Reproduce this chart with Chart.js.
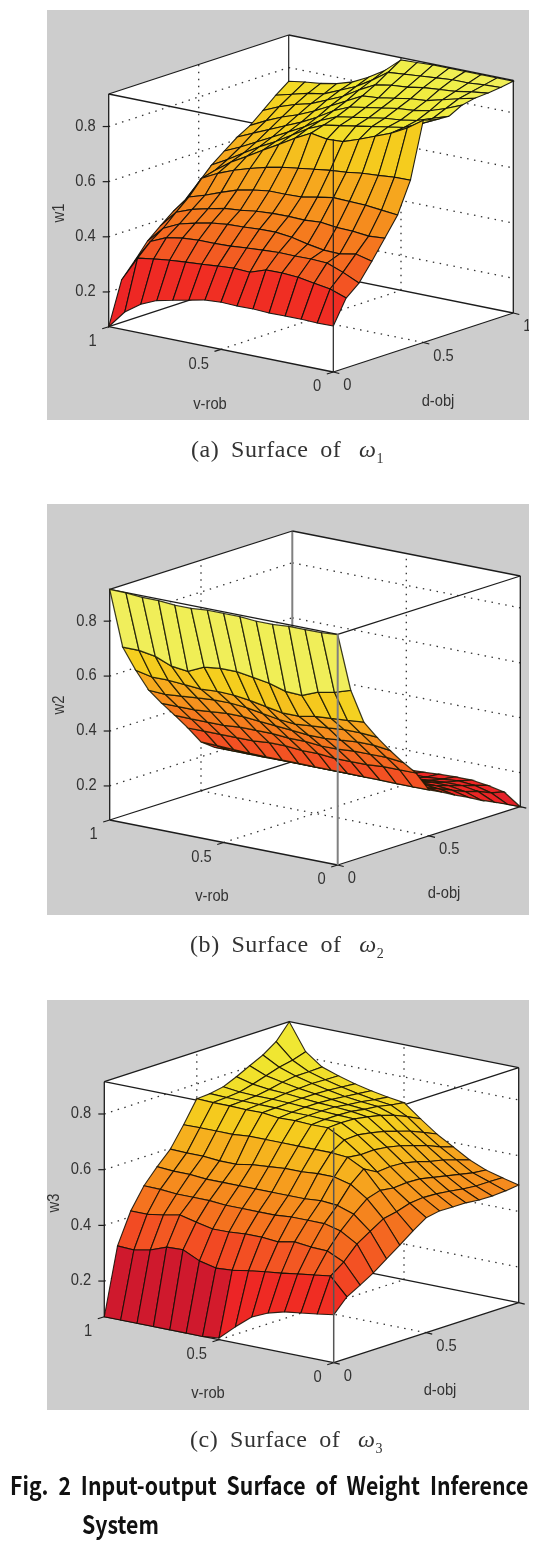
<!DOCTYPE html>
<html>
<head>
<meta charset="utf-8">
<script src="https://cdn.jsdelivr.net/npm/chart.js@4"></script>
<style>
  html, body { margin: 0; padding: 0; background: #fff; }
  body { position: relative; width: 552px; height: 1541px; overflow: hidden; }
  canvas { position: absolute; left: 47px; filter: blur(0.45px); }
  .cap { position: absolute; white-space: nowrap; font-family: "Liberation Serif", serif; font-size: 24px; color: #333; word-spacing: 5px; letter-spacing: 0.6px; filter: blur(0.3px); }
  .cap i { font-size: 24px; margin-left: 6px; }
  .cap sub { font-size: 14px; line-height: 0; }
  .fig { position: absolute; white-space: nowrap; font-family: "Noto Sans CJK KR", "Noto Sans", sans-serif; font-weight: 700; font-size: 25px; color: #111; transform: scaleX(.85); transform-origin: left top; word-spacing: 6px; }
</style>
</head>
<body>
<canvas id="chartA" width="482" height="410" style="top:10px"></canvas>
<canvas id="chartB" width="482" height="411" style="top:504px"></canvas>
<canvas id="chartC" width="482" height="410" style="top:1000px"></canvas>
<div class="cap" style="left:191px;top:436px">(a) Surface of <i>ω</i><sub>1</sub></div>
<div class="cap" style="left:190px;top:931px">(b) Surface of <i>ω</i><sub>2</sub></div>
<div class="cap" style="left:190px;top:1426px">(c) Surface of <i>ω</i><sub>3</sub></div>
<div class="fig" style="left:10px;top:1466px">Fig. 2 Input-output Surface of Weight Inference</div>
<div class="fig" style="left:82px;top:1505px">System</div>
<script>
const zTicks = [0.2, 0.4, 0.6, 0.8];
const vTicks = [0, 0.5, 1];
const dTicks = [0, 0.5, 1];

// rows go along d-obj (0 -> 1), columns along v-rob (0 -> 1)
const w1Grid = [
  [.241, .24, .242, .242, .241, .244, .243, .245, .241, .229, .217, .204, .179, .139, .074],
  [.327, .348, .357, .367, .371, .37, .35, .353, .349, .344, .34, .335, .328, .319, .228],
  [.366, .393, .415, .418, .417, .418, .415, .411, .406, .404, .404, .40, .39, .364, .281],
  [.43, .444, .433, .435, .445, .458, .465, .464, .46, .458, .451, .439, .424, .397, .338],
  [.498, .494, .50, .502, .509, .505, .507, .506, .502, .494, .489, .476, .462, .44, .378],
  [.567, .573, .579, .581, .583, .573, .562, .56, .56, .552, .54, .52, .498, .48, .415],
  [.678, .677, .672, .668, .66, .655, .647, .639, .631, .619, .603, .585, .562, .533, .445],
  [.88, .84, .81, .787, .764, .744, .741, .751, .721, .687, .654, .62, .587, .545, .491],
  [.867, .84, .815, .805, .795, .785, .775, .765, .74, .705, .67, .64, .605, .57, .538],
  [.864, .845, .825, .815, .81, .80, .79, .78, .755, .72, .69, .66, .63, .60, .574],
  [.889, .865, .845, .835, .83, .82, .81, .80, .775, .74, .71, .685, .66, .635, .609],
  [.899, .885, .87, .855, .85, .84, .83, .825, .795, .765, .735, .71, .69, .665, .636],
  [.902, .895, .885, .88, .875, .865, .86, .85, .82, .785, .76, .735, .72, .70, .675],
  [.907, .905, .90, .90, .895, .89, .885, .88, .84, .805, .78, .755, .745, .73, .715],
  [.915, .915, .915, .915, .915, .915, .912, .91, .86, .824, .795, .777, .766, .759, .75],
];

const w2Grid = [
  [.915, .91, .91, .91, .905, .905, .91, .91, .91, .905, .905, .91, .91, .915, .916],
  [.697, .678, .667, .643, .646, .664, .674, .683, .683, .676, .649, .656, .68, .69, .69],
  [.566, .561, .556, .552, .541, .541, .552, .563, .571, .573, .569, .574, .578, .578, .591],
  [.496, .50, .50, .495, .49, .485, .49, .50, .51, .515, .515, .51, .505, .50, .503],
  [.433, .44, .44, .435, .43, .43, .435, .44, .445, .45, .45, .445, .44, .44, .44],
  [.374, .38, .38, .38, .375, .375, .38, .38, .385, .385, .385, .38, .38, .38, .381],
  [.32, .32, .32, .315, .315, .315, .32, .32, .325, .325, .32, .32, .32, .32, .32],
  [.243, .243, .243, .244, .244, .245, .245, .245, .246, .246, .247, .248, .25, .252, .254],
  [.22, .225, .225, .225, .225, .22, .22, .22, .22, .22, .22, .22, .22, .22, .22],
  [.194, .205, .21, .21, .205, .20, .20, .20, .20, .20, .20, .20, .20, .20, .20],
  [.171, .185, .19, .19, .185, .18, .18, .18, .18, .18, .18, .18, .18, .18, .18],
  [.145, .165, .175, .175, .17, .165, .165, .165, .165, .165, .165, .165, .165, .165, .165],
  [.123, .15, .16, .16, .155, .15, .15, .15, .15, .15, .15, .15, .15, .15, .15],
  [.10, .13, .145, .15, .145, .14, .14, .14, .14, .14, .14, .14, .14, .14, .14],
  [.076, .118, .13, .138, .138, .136, .132, .13, .13, .13, .13, .13, .13, .13, .13],
];

const w3Grid = [
  [.244, .235, .227, .219, .203, .177, .13, .078, .072, .072, .072, .072, .072, .072, .072],
  [.293, .356, .348, .34, .331, .324, .316, .306, .302, .316, .344, .342, .32, .308, .311],
  [.32, .391, .419, .421, .428, .416, .421, .421, .416, .415, .428, .442, .43, .421, .421],
  [.348, .44, .475, .49, .49, .49, .485, .485, .485, .485, .49, .49, .49, .495, .496],
  [.383, .47, .52, .54, .545, .54, .54, .54, .54, .54, .54, .54, .545, .545, .549],
  [.417, .50, .56, .60, .615, .615, .61, .61, .605, .60, .59, .59, .595, .595, .597],
  [.453, .51, .575, .64, .67, .675, .675, .675, .675, .675, .675, .67, .67, .67, .669],
  [.485, .525, .568, .614, .664, .705, .737, .736, .739, .737, .744, .743, .745, .745, .747],
  [.494, .53, .572, .618, .666, .708, .74, .74, .742, .742, .746, .746, .747, .748, .75],
  [.493, .528, .57, .615, .66, .70, .738, .74, .743, .745, .748, .75, .75, .752, .759],
  [.492, .522, .56, .605, .65, .69, .73, .738, .742, .745, .75, .755, .758, .765, .78],
  [.487, .515, .55, .59, .635, .675, .72, .73, .735, .742, .75, .758, .768, .78, .804],
  [.486, .51, .54, .58, .62, .66, .705, .725, .73, .737, .748, .76, .775, .795, .827],
  [.489, .51, .53, .565, .60, .64, .685, .715, .722, .732, .744, .758, .775, .805, .86],
  [.495, .509, .525, .55, .585, .619, .662, .708, .716, .727, .74, .757, .777, .82, .916],
];

// colormap stops, z then rgb
const colorZ = [.07, .11, .24, .33, .45, .55, .68, .78, .88, .92];
const colorRGB = [
  [205, 25, 45], [235, 35, 38], [240, 45, 35], [243, 85, 35], [245, 125, 30],
  [246, 160, 30], [245, 205, 30], [240, 228, 45], [240, 238, 70], [240, 238, 95],
];

function colorFor(z) {
  let k = 0;
  while (k < colorZ.length - 2 && z > colorZ[k + 1]) k++;
  const t = Math.min(1, Math.max(0, (z - colorZ[k]) / (colorZ[k + 1] - colorZ[k])));
  const c = colorRGB[k].map((a, n) => Math.round(a + (colorRGB[k + 1][n] - a) * t));
  return `rgb(${c.join(',')})`;
}

// the plugin fills each closed mesh cell using the points the scales already placed
const polygonFill = {
  id: 'polygonFill',
  beforeDatasetDraw(chart, args) {
    const ds = chart.data.datasets[args.index];
    if (!ds.polygonFill) return;
    const pts = chart.getDatasetMeta(args.index).data;
    const ctx = chart.ctx;
    ctx.save();
    ctx.beginPath();
    pts.forEach((p, n) => (n ? ctx.lineTo(p.x, p.y) : ctx.moveTo(p.x, p.y)));
    ctx.closePath();
    ctx.fillStyle = ds.polygonFill;
    ctx.fill();
    ctx.restore();
  },
};

const axisText = {
  id: 'axisText',
  afterDraw(chart) {
    const { ctx, scales } = chart;
    ctx.save();
    ctx.fillStyle = '#333';
    ctx.font = '16px "Liberation Sans", Arial, sans-serif';
    ctx.textBaseline = 'middle';
    chart.options.plugins.axisText.items.forEach((t) => {
      const x = scales.x.getPixelForValue(t.x);
      const y = scales.y.getPixelForValue(t.y);
      ctx.save();
      ctx.translate(x, y);
      if (t.rot) ctx.rotate(t.rot);
      ctx.scale(0.92, 1);
      ctx.textAlign = t.align || 'center';
      ctx.fillText(t.text, 0, 0);
      ctx.restore();
    });
    ctx.restore();
  },
};

function drawSurface(id, grid, name, view) {
  const project = (v, d, z) => ({
    x: view.front.x + v * (view.left.x - view.front.x) + d * (view.right.x - view.front.x),
    y: view.front.y + v * (view.left.y - view.front.y) + d * (view.right.y - view.front.y)
      - ((z - view.zMin) / (view.zMax - view.zMin)) * view.height,
  });
  const line = (pts, color, width, dash) => ({
    data: pts, showLine: true, pointRadius: 0, borderColor: color, borderWidth: width,
    borderDash: dash || [], fill: false,
  });
  const dots = '#333';
  const { zMin: lo, zMax: hi } = view;

  // front first: chart.js paints the last dataset first
  const datasets = [];
  datasets.push(line([project(0, 0, lo), project(0, 0, hi)], view.frontColor, view.frontWidth));

  const n = grid.length - 1;
  for (let i = 0; i < n; i++) {
    for (let j = 0; j < n; j++) {
      const cell = [
        project(j / n, i / n, grid[i][j]),
        project((j + 1) / n, i / n, grid[i][j + 1]),
        project((j + 1) / n, (i + 1) / n, grid[i + 1][j + 1]),
        project(j / n, (i + 1) / n, grid[i + 1][j]),
        project(j / n, i / n, grid[i][j]),
      ];
      datasets.push({ ...line(cell, view.mesh, view.meshWidth), polygonFill: colorFor(grid[i][j]) });
    }
  }

  // box edges that sit behind the surface
  const edge = (a, b) => datasets.push(line([project(...a), project(...b)], '#1c1c1c', 1.3));
  edge([1, 0, hi], [1, 1, hi]);
  edge([1, 1, hi], [0, 1, hi]);
  edge([1, 0, hi], [0, 0, hi]);
  edge([0, 0, hi], [0, 1, hi]);
  edge([1, 0, lo], [0, 0, lo]);
  edge([0, 0, lo], [0, 1, lo]);
  edge([1, 0, lo], [1, 1, lo]);
  edge([1, 1, lo], [0, 1, lo]);
  edge([1, 0, lo], [1, 0, hi]);
  edge([0, 1, lo], [0, 1, hi]);
  datasets.push(line([project(1, 1, lo), project(1, 1, hi)], view.frontColor, view.frontWidth));

  // tick marks
  zTicks.forEach((z) => {
    const p = project(1, 0, z);
    datasets.push(line([p, { x: p.x - 6, y: p.y }], '#1c1c1c', 1.2));
  });
  vTicks.forEach((v) => {
    const p = project(v, 0, lo);
    datasets.push(line([p, { x: p.x - 6.5, y: p.y + 2 }], '#1c1c1c', 1.2));
  });
  dTicks.forEach((d) => {
    const p = project(0, d, lo);
    datasets.push(line([p, { x: p.x + 6, y: p.y + 1.5 }], '#1c1c1c', 1.2));
  });

  // dotted grid on the walls and floor
  const dash = [1.5, 5.5];
  zTicks.forEach((z) => {
    datasets.push(line([project(1, 0, z), project(1, 1, z)], dots, 1.3, dash));
    datasets.push(line([project(1, 1, z), project(0, 1, z)], dots, 1.3, dash));
  });
  datasets.push(line([project(1, 0.5, lo), project(1, 0.5, hi)], dots, 1.3, dash));
  datasets.push(line([project(0.5, 1, lo), project(0.5, 1, hi)], dots, 1.3, dash));
  datasets.push(line([project(0.5, 0, lo), project(0.5, 1, lo)], dots, 1.3, dash));
  datasets.push(line([project(0, 0.5, lo), project(1, 0.5, lo)], dots, 1.3, dash));

  // white backing of the axes
  datasets.push({
    ...line([project(1, 0, hi), project(1, 1, hi), project(0, 1, hi), project(0, 1, lo),
      project(0, 0, lo), project(1, 0, lo), project(1, 0, hi)], '#fff', 0),
    polygonFill: '#fff',
  });

  const items = [];
  zTicks.forEach((z) => {
    const p = project(1, 0, z);
    items.push({ x: p.x - 13, y: p.y, text: String(z), align: 'right' });
  });
  vTicks.forEach((v) => {
    const p = project(v, 0, lo);
    items.push({ x: p.x - 12, y: p.y + 15, text: String(v), align: 'right' });
  });
  dTicks.forEach((d) => {
    const p = project(0, d, lo);
    items.push({ x: p.x + 10, y: p.y + 14, text: String(d), align: 'left' });
  });
  items.push({ x: view.vLabel[0], y: view.vLabel[1], text: 'v-rob' });
  items.push({ x: view.dLabel[0], y: view.dLabel[1], text: 'd-obj' });
  items.push({ x: view.wLabel[0], y: view.wLabel[1], text: name, rot: -Math.PI / 2 });

  const canvas = document.getElementById(id);
  new Chart(canvas, {
    type: 'scatter',
    data: { datasets },
    plugins: [polygonFill, axisText],
    options: {
      responsive: false,
      animation: false,
      layout: { padding: 0 },
      scales: {
        x: { type: 'linear', display: false, min: 0, max: canvas.width },
        y: { type: 'linear', display: false, min: 0, max: canvas.height, reverse: true },
      },
      plugins: {
        legend: { display: false },
        tooltip: { enabled: false },
        axisText: { items },
      },
    },
  });
}

// paint the gray panel behind each chart
['chartA', 'chartB', 'chartC'].forEach((id) => {
  document.getElementById(id).style.background = '#cdcdcd';
});

// view geometry is in each canvas' own pixels
drawSurface('chartA', w1Grid, 'w1', {
  front: { x: 286.3, y: 362 }, left: { x: 61.7, y: 316.7 }, right: { x: 466.3, y: 303 },
  height: 232.7, zMin: 0.074, zMax: 0.918,
  frontColor: '#222', frontWidth: 1.2, mesh: 'rgba(15,15,10,.92)', meshWidth: 1.1,
  vLabel: [163, 395], dLabel: [391, 392], wLabel: [13, 203],
});
drawSurface('chartB', w2Grid, 'w2', {
  front: { x: 290.7, y: 361 }, left: { x: 62.7, y: 316 }, right: { x: 473.3, y: 302.7 },
  height: 230.7, zMin: 0.076, zMax: 0.916,
  frontColor: '#808080', frontWidth: 2, mesh: 'rgba(25,25,5,.85)', meshWidth: 1.25,
  vLabel: [165, 393], dLabel: [397, 390], wLabel: [13, 201],
});
drawSurface('chartC', w3Grid, 'w3', {
  front: { x: 286.7, y: 362.7 }, left: { x: 57.3, y: 316.7 }, right: { x: 471.7, y: 302.7 },
  height: 235, zMin: 0.072, zMax: 0.916,
  frontColor: '#555', frontWidth: 1.5, mesh: 'rgba(20,15,5,.88)', meshWidth: 1.1,
  vLabel: [161, 394], dLabel: [393, 391], wLabel: [8, 203],
});
</script>
</body>
</html>
